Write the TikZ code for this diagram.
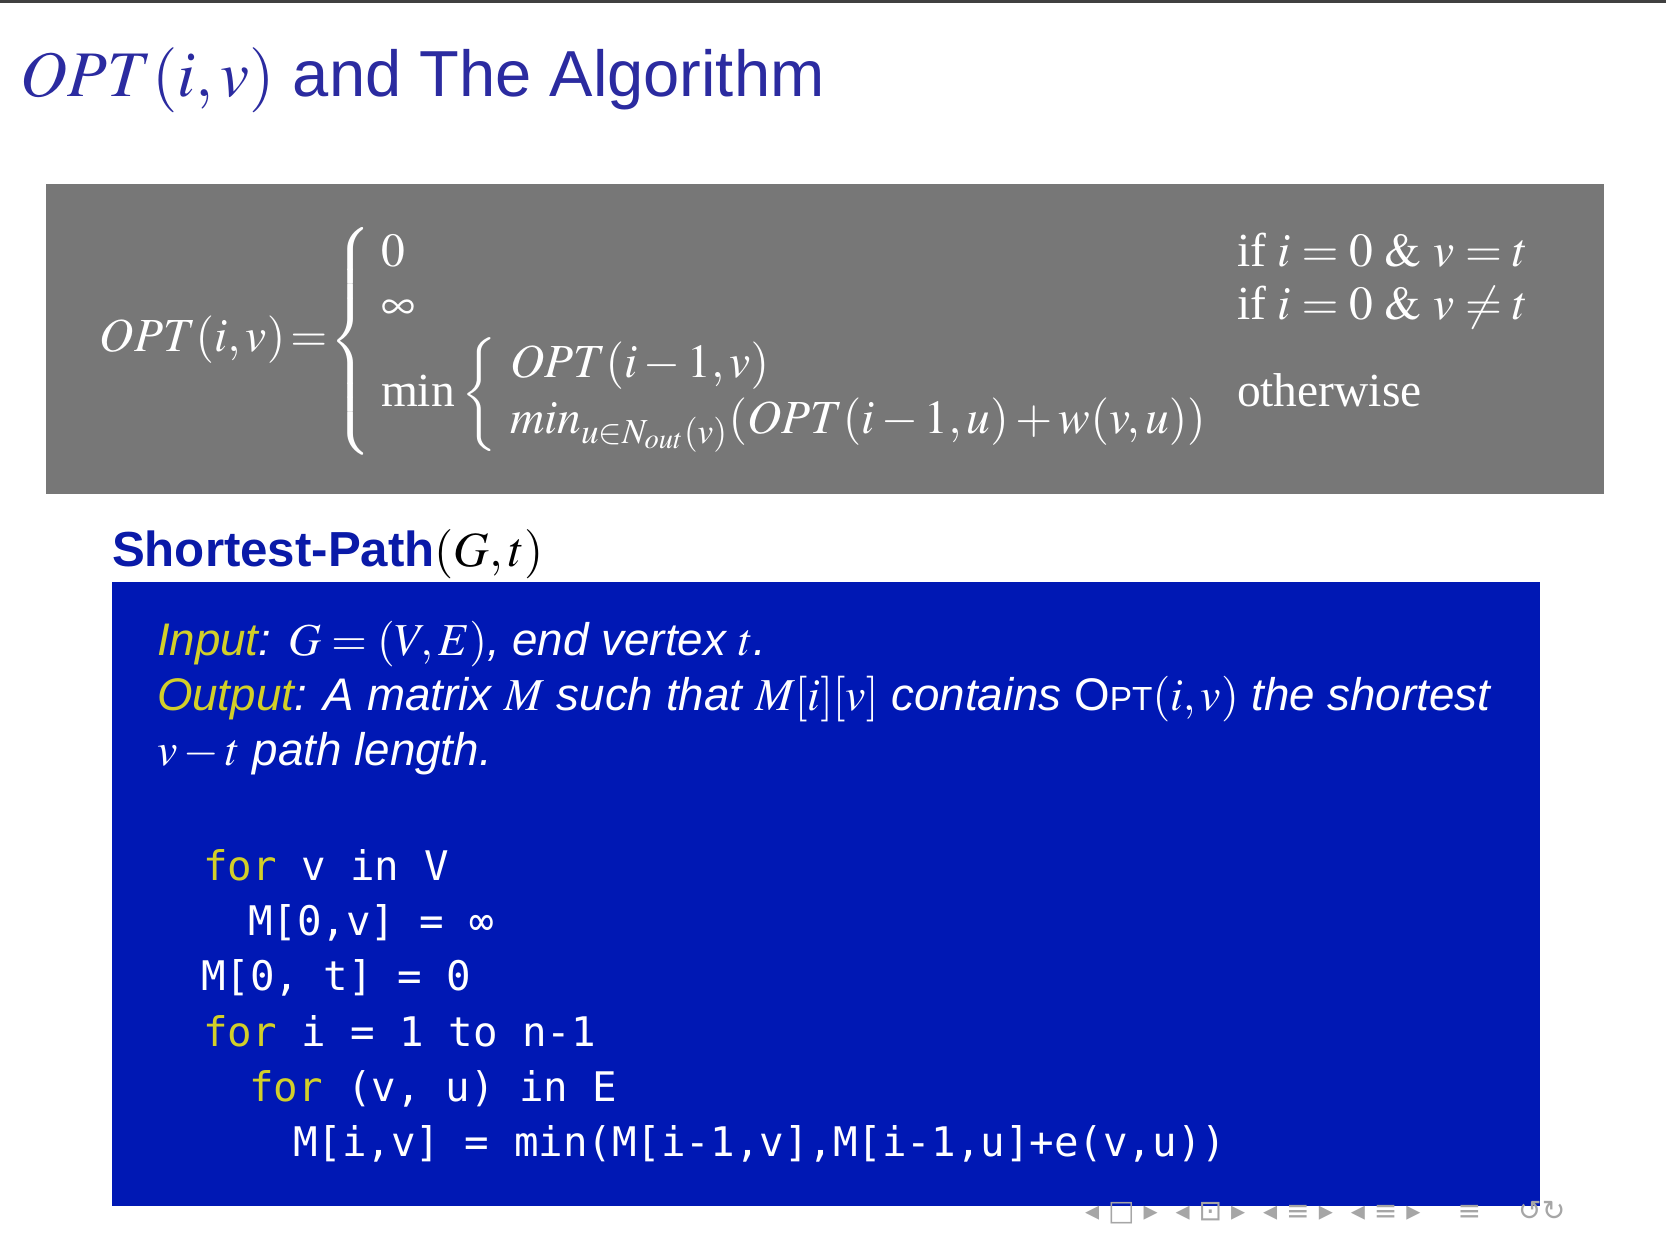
\documentclass[tikz,border=0pt]{standalone}
\usepackage{mathptmx}
\usepackage{fontspec}
\setmainfont{Liberation Serif}
\setsansfont{Liberation Sans}
\newfontfamily\codefont{DejaVu Sans Mono}
\newfontfamily\symfont{DejaVu Sans}
\definecolor{titleblue}{HTML}{2B2BA0}
\definecolor{boxgray}{HTML}{777777}
\definecolor{boxblue}{HTML}{0018B4}
\definecolor{kwyellow}{HTML}{D2CF29}
\definecolor{spblue}{HTML}{0A1AA8}
\tikzset{
  txt/.style={anchor=base west, inner sep=0pt, outer sep=0pt},
  gmath/.style={txt, text=white, font=\fontsize{13.5}{16}\selectfont},
  io/.style={txt, text=white, font=\sffamily\itshape\fontsize{13}{15}\selectfont},
  code/.style={txt, text=white, font=\codefont\fontsize{11.6}{14}\selectfont},
}
\newcommand{\kw}[1]{\textcolor{kwyellow}{#1}}
\begin{document}
\begin{tikzpicture}[x=0.01cm,y=-0.01cm]
\useasboundingbox (0,0) rectangle (1666,1244);
\fill[white] (0,0) rectangle (1666,1244);
\fill[black!75] (0,0) rectangle (1666,3);
\node[txt, text=titleblue, font=\sffamily\fontsize{18.5}{22}\selectfont] (title) at (21,96) {$OPT(i,v)$ and The Algorithm};
% gray box
\fill[boxgray] (46,184) rectangle (1604,494);
\node[gmath] (lhs) at (100,351) {$OPT(i,v)\mskip-2mu=$};
\node[inner sep=0pt, text=white, font=\fontsize{13.5}{16}\selectfont] (bigbrace) at (353,341) {$\left\{\vrule height 1.0cm depth 1.0cm width 0pt\right.$};
\node[gmath] (c0) at (381,266) {$0$};
\node[gmath] (c1) at (381,319) {$\infty$};
\node[gmath] (c2) at (381,406) {min};
\node[inner sep=0pt, text=white, font=\fontsize{13.5}{16}\selectfont] (smallbrace) at (481,397) {$\left\{\vrule height 0.5cm depth 0.5cm width 0pt\right.$};
\node[gmath] (d0) at (510,377) {$OPT(i-1,v)$};
\node[gmath] (d1) at (510,433) {$min_{u\in N_{out}(v)}(OPT(i-1,u)+w(v,u))$};
\node[gmath] (r0) at (1237,266) {if $i=0\ \&\ v=t$};
\node[gmath] (r1) at (1237,319) {if $i=0\ \&\ v\neq t$};
\node[gmath] (r2) at (1237,406) {otherwise};
% algorithm
\node[txt, font=\fontsize{14}{17}\selectfont] (sp) at (112,566) {\textcolor{spblue}{\sffamily\bfseries Shortest-Path}$(G,t)$};
\fill[boxblue] (112,582) rectangle (1540,1206);
\node[io] (in) at (157,655) {\textcolor{kwyellow}{Input}: $G=(V,E)$, end vertex $t$.};
\node[io] (out) at (157,710) {\textcolor{kwyellow}{Output}: A matrix $M$ such that $M[i][v]$ contains \textup{O{\fontsize{9.5}{11}\selectfont PT}}$(i,v)$ the shortest};
\node[io] (out2) at (157,765) {$v-t$ path length.};
\node[code] (l1) at (203,880) {\kw{for} v in V};
\node[code] (l2) at (248,935) {M[0,v] = ∞};
\node[code] (l3) at (201,990) {M[0, t] = 0};
\node[code] (l4) at (203,1046) {\kw{for} i = 1 to n-1};
\node[code] (l5) at (249,1101) {\kw{for} (v, u) in E};
\node[code] (l6) at (293,1156) {M[i,v] = min(M[i-1,v],M[i-1,u]+e(v,u))};
% navigation
\node[txt, text=black!35, font=\symfont\fontsize{8}{10}\selectfont] (nav) at (1085,1220) {◂ □ ▸ \ ◂ ⊡ ▸ \ ◂ ≡ ▸ \ ◂ ≡ ▸ \quad ≡ \quad ↺↻};
\end{tikzpicture}
\end{document}
